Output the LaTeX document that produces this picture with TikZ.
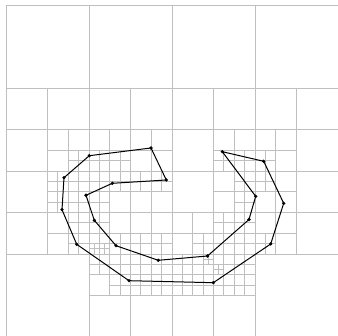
\documentclass[tikz,border=0pt]{standalone}
\begin{document}
\begin{tikzpicture}[
  gridline/.style={draw=gray!50, line width=0.9pt},
  pathline/.style={draw=black, line width=1pt, line join=round},
  vdot/.style={circle, fill=black, inner sep=0pt, minimum size=3.6pt}
]
\useasboundingbox (0,0) rectangle (338pt,336pt);
\clip (0,0) rectangle (338pt,336pt);
\fill[white] (0,0) rectangle (338pt,336pt);
% quadtree grid, unit = 10.375px, origin at (6px,5px)
\begin{scope}[shift={(6pt,331pt)}, x=10.375pt, y=-10.375pt]
  \draw[gridline] (0,0) rectangle (32,32);
  \foreach \u/\v/\s in {
    0/0/32,
    0/0/16, 16/0/16, 0/16/16, 16/16/16,
    0/8/8, 8/8/8, 16/8/8, 24/8/8, 0/16/8, 8/16/8, 16/16/8, 24/16/8, 8/24/8, 16/24/8,
    4/12/4, 8/12/4, 12/12/4, 20/12/4, 24/12/4,
    4/16/4, 8/16/4, 12/16/4, 20/16/4, 24/16/4,
    4/20/4, 8/20/4, 12/20/4, 16/20/4, 20/20/4, 24/20/4,
    8/24/4, 12/24/4, 16/24/4, 20/24/4,
    6/14/2, 8/14/2, 10/14/2, 20/14/2, 22/14/2, 24/14/2,
    4/16/2, 6/16/2, 8/16/2, 10/16/2, 12/16/2, 14/16/2, 22/16/2, 24/16/2,
    4/18/2, 6/18/2, 8/18/2, 22/18/2,
    6/20/2, 8/20/2, 20/20/2, 22/20/2,
    6/22/2, 8/22/2, 10/22/2, 12/22/2, 14/22/2, 18/22/2, 20/22/2, 22/22/2, 24/22/2,
    8/24/2, 10/24/2, 12/24/2, 14/24/2, 16/24/2, 18/24/2, 20/24/2, 22/24/2,
    10/26/2, 12/26/2, 14/26/2, 16/26/2, 18/26/2, 20/26/2, 22/26/2,
    8/23/1, 9/23/1, 19/24/1, 20/25/1}
  {
    \draw[gridline] (\u+\s/2,\v) -- ++(0,\s) (\u,\v+\s/2) -- ++(\s,0);
  }
\end{scope}
% polygon, pixel coordinates
\begin{scope}[shift={(0,336pt)}, x=1pt, y=-1pt]
  \coordinate (p1) at (222.3,151.7);
  \coordinate (p2) at (263.7,161.3);
  \coordinate (p3) at (283.7,203.3);
  \coordinate (p4) at (270.7,244.0);
  \coordinate (p5) at (213.3,282.7);
  \coordinate (p6) at (129.0,280.7);
  \coordinate (p7) at (76.7,244.3);
  \coordinate (p8) at (62.0,209.7);
  \coordinate (p9) at (64.0,177.7);
  \coordinate (p10) at (89.3,155.7);
  \coordinate (p11) at (151.0,148.0);
  \coordinate (p12) at (166.3,180.0);
  \coordinate (p13) at (112.3,183.3);
  \coordinate (p14) at (86.0,195.3);
  \coordinate (p15) at (94.3,220.3);
  \coordinate (p16) at (116.0,245.7);
  \coordinate (p17) at (158.3,260.3);
  \coordinate (p18) at (207.5,256.0);
  \coordinate (p19) at (249.0,219.5);
  \coordinate (p20) at (255.7,196.3);
  \draw[pathline] (p1) -- (p2) -- (p3) -- (p4) -- (p5) -- (p6) -- (p7) -- (p8) -- (p9) -- (p10)
    -- (p11) -- (p12) -- (p13) -- (p14) -- (p15) -- (p16) -- (p17) -- (p18) -- (p19) -- (p20) -- cycle;
  \foreach \i in {1,...,20} { \node[vdot] (d\i) at (p\i) {}; }
\end{scope}
\end{tikzpicture}
\end{document}
